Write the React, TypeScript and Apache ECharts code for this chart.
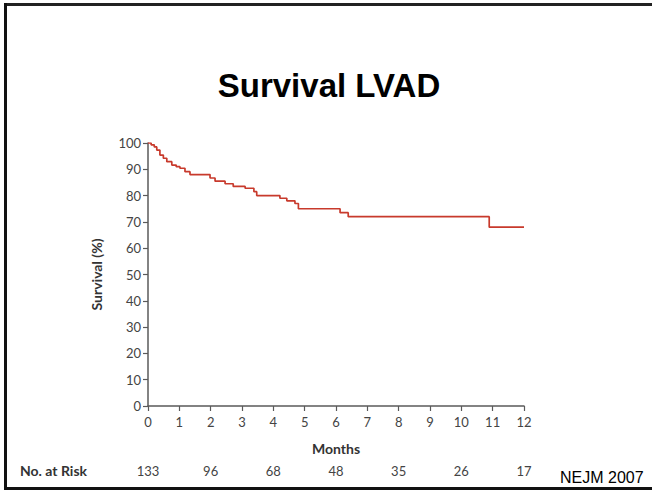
import React, { useEffect, useRef } from "react";
import * as echarts from "echarts";

const months = [0, 0.1, 0.2, 0.28, 0.38, 0.49, 0.6, 0.76, 0.9, 1.02, 1.18, 1.34, 1.98, 2.14, 2.46, 2.72, 3.1, 3.38, 3.47, 4.21, 4.43, 4.69, 4.8, 6.13, 6.39, 10.89, 12];
const survival = [100, 99.3, 98.5, 97.3, 95.4, 94.2, 92.9, 91.6, 91, 90.4, 89.1, 88, 86.7, 85.5, 84.5, 83.5, 82.8, 81.5, 80, 79, 78, 77, 75, 73.5, 72, 68, 68];
const riskMonths = [0, 2, 4, 6, 8, 10, 12];
const atRisk = [133, 96, 68, 48, 35, 26, 17];
const titleText = "Survival LVAD";
const sourceText = "NEJM 2007";

const FONT = "Lato, 'Open Sans', sans-serif";
const AXIS = "#5a5a5a";

export default function App() {
  const ref = useRef<HTMLDivElement>(null);
  useEffect(() => {
    if (!ref.current) return;
    const chart = echarts.init(ref.current, null, { renderer: "svg" });
    const data = months.map((m, i) => [m, survival[i]]);
    chart.setOption({
      animation: false,
      backgroundColor: "#ffffff",
      grid: { left: 148, right: 128, top: 143, bottom: 84, containLabel: false },
      xAxis: [
        {
          type: "value",
          min: 0,
          max: 12,
          interval: 1,
          name: "Months",
          nameLocation: "middle",
          nameGap: 35,
          nameTextStyle: { fontFamily: FONT, fontSize: 14, fontWeight: "bold", color: "#333" },
          axisLine: { show: true, lineStyle: { color: AXIS, width: 1.5 } },
          axisTick: { show: true, length: 5, lineStyle: { color: AXIS, width: 1.2 } },
          axisLabel: { color: "#444", fontFamily: FONT, fontSize: 13, margin: 9 },
          splitLine: { show: false },
        },
        {
          type: "value",
          min: 0,
          max: 12,
          interval: 2,
          position: "bottom",
          axisLine: { show: false },
          axisTick: { show: false },
          splitLine: { show: false },
          axisLabel: {
            color: "#444",
            fontFamily: FONT,
            fontSize: 13,
            margin: 58,
            formatter: (v: number) => {
              const i = riskMonths.indexOf(v);
              return i >= 0 ? String(atRisk[i]) : "";
            },
          },
        },
      ],
      yAxis: {
        type: "value",
        min: 0,
        max: 100,
        interval: 10,
        name: "Survival (%)",
        nameLocation: "middle",
        nameGap: 45,
        nameRotate: 90,
        nameTextStyle: { fontFamily: FONT, fontSize: 14, fontWeight: "bold", color: "#333" },
        axisLine: { show: true, lineStyle: { color: AXIS, width: 1.5 } },
        axisTick: { show: true, length: 5, lineStyle: { color: AXIS, width: 1.2 } },
        axisLabel: { color: "#444", fontFamily: FONT, fontSize: 13, margin: 7 },
        splitLine: { show: false },
      },
      series: [
        {
          type: "line",
          step: "end",
          data,
          showSymbol: false,
          symbol: "none",
          lineStyle: { color: "#c83a2c", width: 1.7 },
          xAxisIndex: 0,
        },
      ],
      graphic: [
        { type: "line", shape: { x1: 4, y1: 4.5, x2: 652, y2: 4.5 }, style: { stroke: "#222", lineWidth: 3 } },
        { type: "line", shape: { x1: 5.5, y1: 3, x2: 5.5, y2: 490 }, style: { stroke: "#111", lineWidth: 3 } },
        { type: "line", shape: { x1: 4, y1: 488.5, x2: 652, y2: 488.5 }, style: { stroke: "#111", lineWidth: 3 } },
        {
          type: "text",
          x: 329,
          y: 85,
          style: { text: titleText, fontFamily: "Arial, 'Liberation Sans', sans-serif", fontSize: 33, fontWeight: "bold", fill: "#000", align: "center", verticalAlign: "middle" },
        },
        {
          type: "text",
          x: 20,
          y: 470,
          style: { text: "No. at Risk", fontFamily: FONT, fontSize: 14, fontWeight: "bold", fill: "#333", align: "left", verticalAlign: "middle" },
        },
        {
          type: "text",
          x: 560,
          y: 477,
          style: { text: sourceText, fontFamily: "Arial, 'Liberation Sans', sans-serif", fontSize: 16, fill: "#000", align: "left", verticalAlign: "middle" },
        },
      ],
    });
    return () => chart.dispose();
  }, []);
  return <div ref={ref} style={{ position: "absolute", left: 0, top: 0, width: 652, height: 490 }} />;
}
